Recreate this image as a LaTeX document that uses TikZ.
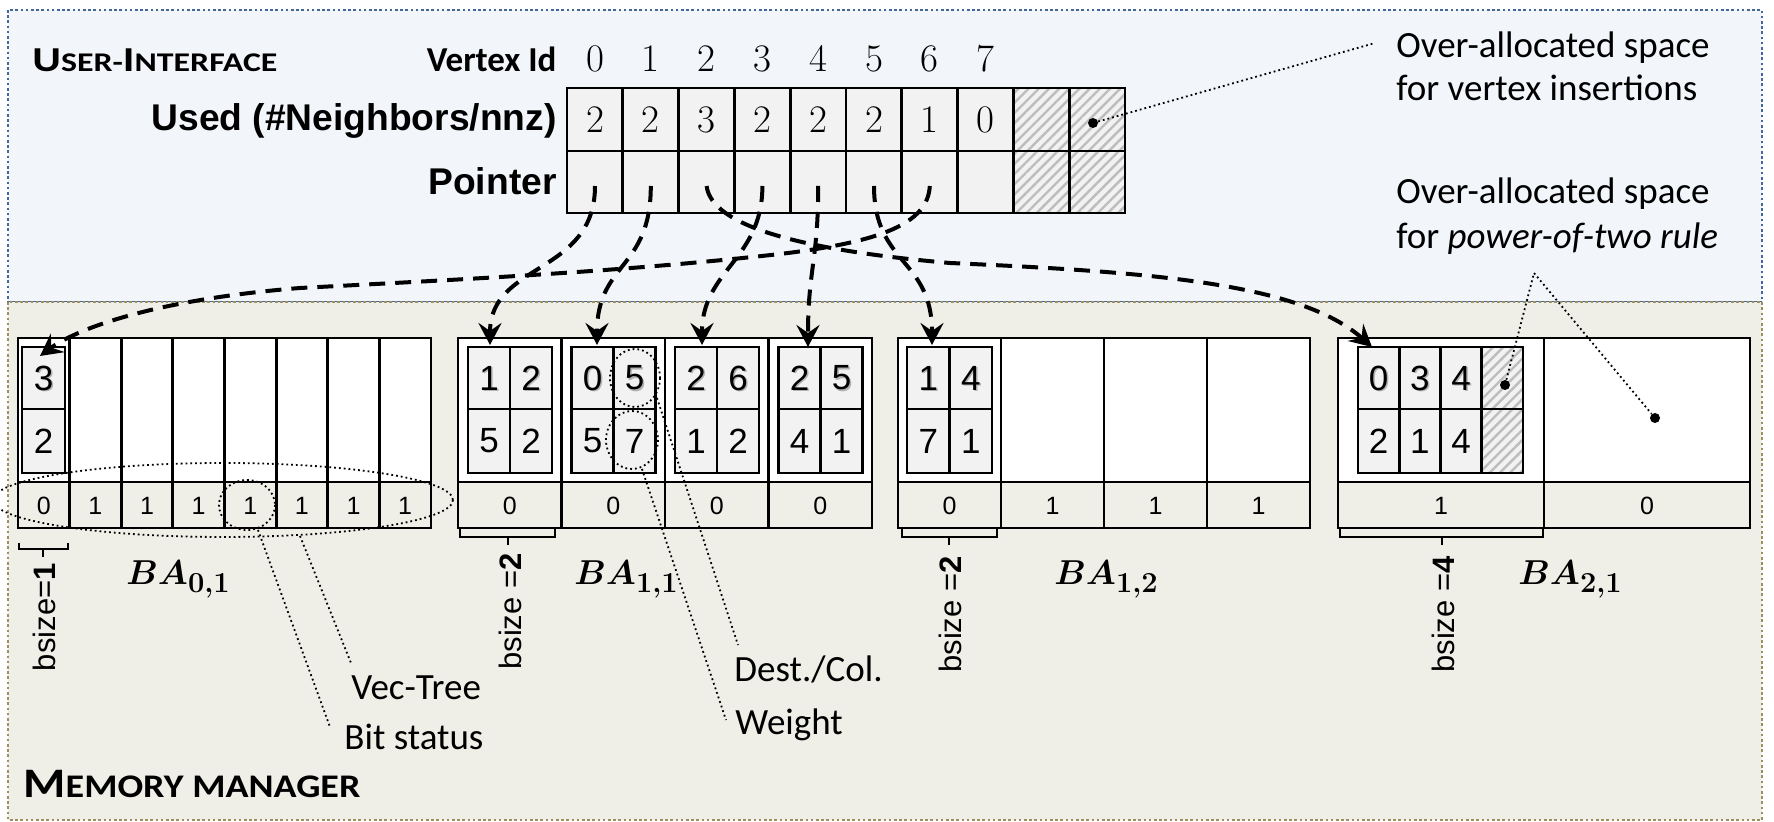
\documentclass[tikz,border=0pt]{standalone}
\usepackage{fontspec}
\usepackage{amsmath}
\usetikzlibrary{arrows.meta,patterns.meta}
\newfontfamily\calfont{Carlito}
\newfontfamily\arfont{Liberation Sans}
\definecolor{uifill}{HTML}{F2F5FA}
\definecolor{uiborder}{HTML}{44679A}
\definecolor{mmfill}{HTML}{EFEFE8}
\definecolor{mmborder}{HTML}{9C9060}
\definecolor{cellgray}{HTML}{F2F2F2}
\definecolor{hatchgray}{HTML}{BDBDBD}

% outer memory block: #1 prefix, #2 left, #3 right, #4 columns, #5 status bits
\newcommand\memblock[5]{%
  \pgfmathsetmacro\colw{(#3-#2)/#4}
  \fill[white] (#2,338) rectangle (#3,482);
  \foreach \b [count=\k from 0] in {#5} {
    \pgfmathsetmacro\xl{#2+\colw*\k}
    \ifnum\k>0 \draw[gridline] (\xl,338) -- (\xl,528);\fi
    \node[bitdigit] (#1bit\k) at ({\xl+\colw/2},506) {\b};
  }
  \draw[gridline] (#2,482) -- (#3,482);
  \draw[gridline] (#2,338) rectangle (#3,528);
}
% edge block: #1 prefix, #2 left, #3 cell width, #4 columns, #5 upper row, #6 lower row
\newcommand\cellblock[6]{%
  \fill[cellgray] (#2,347) rectangle ({#2+#3*#4},473);
  \foreach \d [count=\k from 0] in {#5} {
    \pgfmathsetmacro\xc{#2+#3*(\k+0.5)}
    \node[cellshadow] (#1s\k) at ({\xc+1.5},379.5) {\d};
    \node[celldigit] (#1u\k) at (\xc,378) {\d};
  }
  \foreach \d [count=\k from 0] in {#6} {
    \pgfmathsetmacro\xc{#2+#3*(\k+0.5)}
    \node[celldigit] (#1l\k) at (\xc,441) {\d};
  }
  \draw[gridline] (#2,409) -- ({#2+#3*#4},409);
  \ifnum#4>1
    \foreach \k in {2,...,#4} {\draw[gridline] ({#2+#3*(\k-1)},347) -- ({#2+#3*(\k-1)},473);}
  \fi
  \draw[gridline] (#2,347) rectangle ({#2+#3*#4},473);
}
\newcommand\balabel[1]{{\fontsize{18.5}{20}\selectfont$\boldsymbol{BA}$}{\fontsize{14.5}{15}\selectfont\raisebox{-4pt}{\bfseries #1}}}

\begin{document}
\begin{tikzpicture}[x=0.5pt,y=-0.5pt,
  panelborder/.style={line width=1.3pt, dash pattern=on 1.3pt off 1.3pt},
  gridline/.style={line width=1.45pt, line join=miter},
  ptr/.style={line width=2pt, dash pattern=on 8pt off 5pt, -{Stealth[length=11pt,width=11.5pt,inset=4pt]}},
  leader/.style={line width=0.9pt, dash pattern=on 0.9pt off 1.5pt},
  hatch/.style={fill=cellgray, postaction={pattern={Lines[angle=45,distance=3.6pt,line width=1.2pt]}, pattern color=hatchgray}},
  topdigit/.style={inner sep=0pt, font=\fontsize{19.5}{19.5}\selectfont},
  rowlabel/.style={inner sep=0pt, font=\arfont\bfseries\fontsize{18.6}{18.6}\selectfont},
  celldigit/.style={inner sep=0pt, font=\arfont\fontsize{17.5}{17.5}\selectfont},
  cellshadow/.style={celldigit, text=black!50, opacity=0.55},
  bitdigit/.style={inner sep=0pt, font=\arfont\fontsize{12.5}{12.5}\selectfont},
  note/.style={inner sep=0pt, font=\calfont\fontsize{18.5}{18.5}\selectfont},
  bsizelabel/.style={inner sep=0pt, rotate=90, anchor=east, font=\arfont\fontsize{15.5}{15.5}\selectfont},
  bracket/.style={line width=0.8pt},
  dot/.style={circle, fill=black, inner sep=0pt, minimum size=5pt}]

\useasboundingbox (0,0) rectangle (1774,822);
\fill[white] (0,0) rectangle (1774,822);

% panels
\draw[uiborder, panelborder, fill=uifill] (8,10) rectangle (1762,302);
\draw[mmborder, panelborder, fill=mmfill] (8,302) rectangle (1762,820);

% panel titles
\node[anchor=base west, inner sep=0pt] (uititle) at (32,72)
  {\resizebox{122.5pt}{\height}{\calfont\bfseries\fontsize{17.5}{18}\selectfont U\fontsize{13.5}{14}\selectfont SER-\fontsize{17.5}{18}\selectfont I\fontsize{13.5}{14}\selectfont NTERFACE}};
\node[anchor=base west, inner sep=0pt] (mmtitle) at (23,798)
  {\resizebox{168.5pt}{\height}{\calfont\bfseries\fontsize{21}{22}\selectfont M\fontsize{16.5}{17}\selectfont EMORY MANAGER}};

% vertex table
\foreach \j in {0,...,7} {\fill[cellgray] ({567+55.8*\j},88) rectangle ({567+55.8*(\j+1)},213);}
\foreach \j in {8,9} {\path[hatch] ({567+55.8*\j},88) rectangle ({567+55.8*(\j+1)},213);}
\draw[gridline] (567,151) -- (1125,151);
\foreach \j in {1,...,9} {\draw[gridline] ({567+55.8*\j},88) -- ({567+55.8*\j},213);}
\draw[gridline] (567,88) rectangle (1125,213);

\node[rowlabel, anchor=base east, font=\calfont\bfseries\fontsize{17.5}{18}\selectfont] (vlabel) at (557,72) {Vertex Id};
\node[rowlabel, anchor=base east] (ulabel) at (557,131) {Used (\#Neighbors/nnz)};
\node[rowlabel, anchor=base east] (plabel) at (557,195) {Pointer};

\foreach \j in {0,...,7} {\node[topdigit, anchor=base] (vid\j) at ({595+55.8*\j},72) {\j};}
\foreach \n [count=\j from 0] in {2,2,3,2,2,2,1,0} {\node[topdigit, anchor=base] (used\j) at ({595+55.8*\j},133) {\n};}
\foreach \j in {0,...,6} {\coordinate (ptr\j) at ({595+55.8*\j},186);}

% over-allocated vertex slots
\node[dot] (vdot) at (1093,123) {};
\node[note, anchor=base west] (vnote1) at (1396,58) {Over-allocated space};
\node[note, anchor=base west] (vnote2) at (1396,101) {for vertex insertions};
\coordinate (vnoteend) at (1375,43);
\draw[leader] (vdot) -- (vnoteend);

\node[note, anchor=base west] (pnote1) at (1396,204) {Over-allocated space};
\node[note, anchor=base west] (pnote2) at (1396,249) {for \textit{power-of-two rule}};

% block arrays
\memblock{ba01}{18}{431}{8}{0,1,1,1,1,1,1,1}
\memblock{ba11}{458}{872}{4}{0,0,0,0}
\memblock{ba12}{898}{1310}{4}{0,1,1,1}
\memblock{ba21}{1338}{1750}{2}{1,0}

\cellblock{a}{22}{43}{1}{3}{2}
\cellblock{b}{468}{42}{2}{1,2}{5,2}
\cellblock{c}{571.5}{42}{2}{0,5}{5,7}
\cellblock{d}{675}{42}{2}{2,6}{1,2}
\cellblock{e}{778.5}{42}{2}{2,5}{4,1}
\cellblock{f}{907}{42.5}{2}{1,4}{7,1}
\cellblock{g}{1358}{41.25}{4}{0,3,4}{2,1,4}
\path[hatch] (1481.75,347) rectangle (1523,473);
\draw[gridline] (1481.75,409) -- (1523,409);
\draw[gridline] (1481.75,347) rectangle (1523,473);

% block size brackets
\draw[bracket] (19,543) -- (19,549) -- (68,549) -- (68,543) (43,549) -- (43,557);
\draw[bracket] (460,528) -- (460,537) -- (555,537) -- (555,528) (508,537) -- (508,545);
\draw[bracket] (902,528) -- (902,537) -- (997,537) -- (997,528) (949,537) -- (949,545);
\draw[bracket] (1340,528) -- (1340,537) -- (1543,537) -- (1543,528) (1442,537) -- (1442,545);

\node[bsizelabel] (bs01) at (44,563) {bsize=\textbf{1}};
\node[bsizelabel] (bs11) at (510,553) {bsize =\textbf{2}};
\node[bsizelabel] (bs12) at (950,556) {bsize =\textbf{2}};
\node[bsizelabel] (bs21) at (1443,556) {bsize =\textbf{4}};

\node[anchor=base west, inner sep=0pt] (l01) at (126,585) {\balabel{0,1}};
\node[anchor=base west, inner sep=0pt] (l11) at (574,585) {\balabel{1,1}};
\node[anchor=base west, inner sep=0pt] (l12) at (1054,585) {\balabel{1,2}};
\node[anchor=base west, inner sep=0pt] (l21) at (1518,585) {\balabel{2,1}};

% vec-tree and bit status callouts
\draw[leader] (223,500) ellipse [x radius=230, y radius=37];
\draw[leader] (247,505) ellipse [x radius=28, y radius=25];
\node[note, anchor=base west] (vectree) at (351,700) {Vec-Tree};
\node[note, anchor=base west] (bitstatus) at (344,750) {Bit status};
\coordinate (vtstart) at (300,536);
\coordinate (vtend) at (351,663);
\coordinate (bsstart) at (258,530);
\coordinate (bsend) at (330,727);
\draw[leader] (vtstart) -- (vtend);
\draw[leader] (bsstart) -- (bsend);

% destination / weight callouts
\draw[leader] (635,378) ellipse [x radius=25, y radius=29];
\draw[leader] (632,440) ellipse [x radius=26, y radius=29];
\node[note, anchor=base west] (destcol) at (734,682) {Dest./Col.};
\node[note, anchor=base west] (weight) at (735,735) {Weight};
\coordinate (dcstart) at (657,398);
\coordinate (dcend) at (738,645);
\coordinate (wstart) at (642,469);
\coordinate (wend) at (726,720);
\draw[leader] (dcstart) -- (dcend);
\draw[leader] (wstart) -- (wend);

% power-of-two slack
\node[dot] (pdot1) at (1505,385) {};
\node[dot] (pdot2) at (1655,418) {};
\coordinate (papex) at (1534,273);
\draw[leader] (pdot1) -- (papex) -- (pdot2);

% pointers into the block arrays
\coordinate (tgt0) at (490,345);
\coordinate (tgt1) at (597,345);
\coordinate (tgt2) at (1372,347);
\coordinate (tgt3) at (702,345);
\coordinate (tgt4) at (808,347);
\coordinate (tgt5) at (932,345);
\coordinate (tgt6) at (40,356);

\draw[ptr] (ptr0) .. controls +(0,89) and +(0,-83) .. (tgt0);
\draw[ptr] (ptr1) .. controls +(0,84) and +(0,-83) .. (tgt1);
\draw[ptr] (ptr3) .. controls +(0,74) and +(0,-75) .. (tgt3);
\draw[ptr] (ptr4) .. controls +(0,74) and +(0,-77) .. (tgt4);
\draw[ptr] (ptr5) .. controls +(0,79) and +(0,-87) .. (tgt5);
\draw[ptr] (ptr2) .. controls +(5,40) and (800,250) .. (950,263)
  .. controls (1150,272) and (1300,283) .. (tgt2);
\draw[ptr] (ptr6) .. controls +(-2,38) and (880,242) .. (780,254)
  .. controls (620,272) and (450,280) .. (300,288)
  .. controls (150,300) and (75,330) .. (tgt6);
\end{tikzpicture}
\end{document}
